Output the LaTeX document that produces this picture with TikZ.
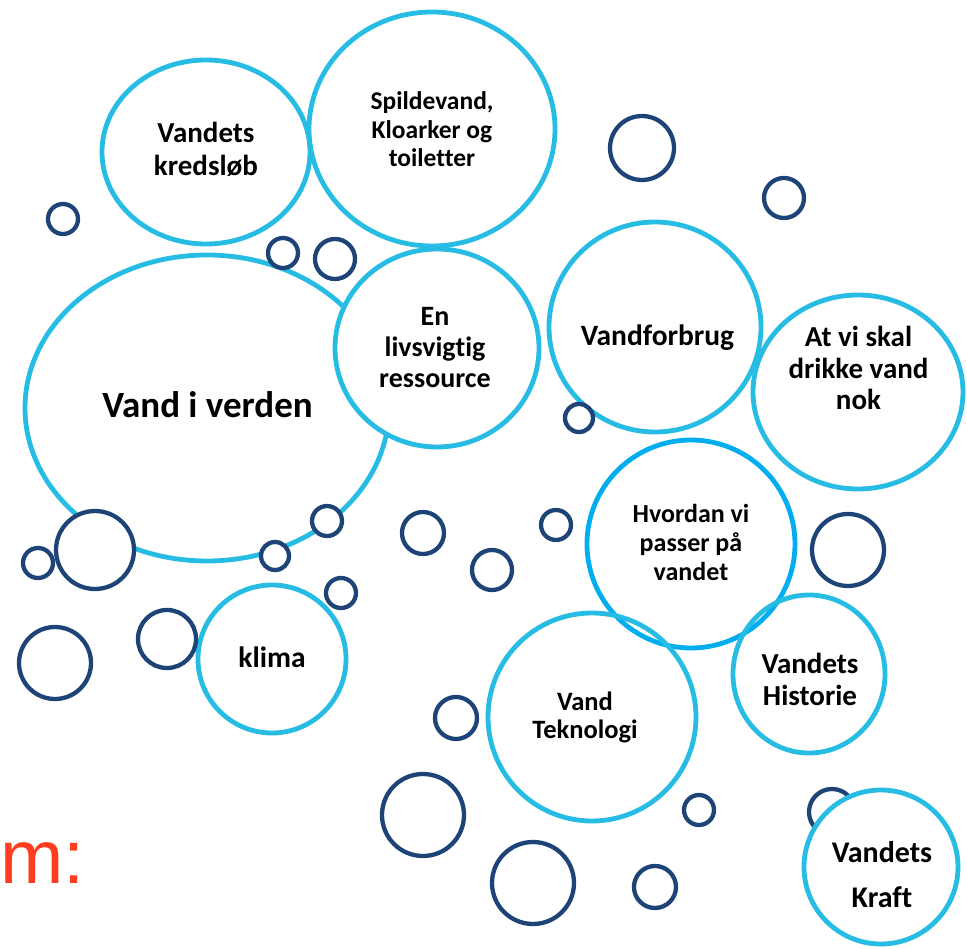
\documentclass[tikz,border=0pt]{standalone}
\usepackage{fontspec}
\setmainfont{Carlito}[Ligatures=NoCommon]
\newfontfamily\arialfont{Liberation Sans}
\definecolor{lightb}{RGB}{38,188,227}
\definecolor{skyb}{RGB}{0,174,239}
\definecolor{darkb}{RGB}{30,68,119}
\definecolor{redtxt}{RGB}{255,60,30}
\tikzset{
  big/.style={draw=lightb, line width=4.8pt},
  bigsky/.style={draw=skyb, line width=4.8pt},
  small/.style={draw=darkb, line width=4.3pt, fill=white},
  lbl/.style={inner sep=0pt, align=center, text=black},
}
\newcommand{\fs}[2]{\fontsize{#1}{#2}\selectfont\bfseries}
\begin{document}
\begin{tikzpicture}[x=1pt,y=-1pt]
\useasboundingbox (0,0) rectangle (967,949);
% large light-blue bubbles
\draw[big] (206,152) ellipse [x radius=104pt, y radius=92pt];
\draw[big] (432,129) ellipse [x radius=123pt, y radius=117pt];
\draw[big] (207,408) ellipse [x radius=182pt, y radius=153pt];
\draw[big, fill=white] (437,348) ellipse [x radius=102pt, y radius=99pt];
\draw[big] (655,327) ellipse [x radius=106pt, y radius=105pt];
\draw[big] (858,392) ellipse [x radius=105pt, y radius=97pt];
\draw[bigsky] (691,544) circle [radius=104pt];
\draw[big] (809,674) ellipse [x radius=76pt, y radius=79pt];
\draw[big] (592,717) circle [radius=104pt];
\draw[big] (272,659) circle [radius=74pt];
% small dark-blue bubbles
\draw[small] (63,219) circle [radius=15pt];
\draw[small] (283,253) circle [radius=15pt];
\draw[small] (335,259) circle [radius=20pt];
\draw[small] (642,148) circle [radius=32pt];
\draw[small] (784,198) circle [radius=20pt];
\draw[small] (579,418) circle [radius=14pt];
\draw[small] (95,550) circle [radius=39pt];
\draw[small] (38,563) circle [radius=15pt];
\draw[small] (327,521) circle [radius=15pt];
\draw[small] (275,556) circle [radius=14pt];
\draw[small] (341,593) circle [radius=15pt];
\draw[small] (423,533) circle [radius=21pt];
\draw[small] (492,570) circle [radius=20pt];
\draw[small] (556,525) circle [radius=15pt];
\draw[small] (848,550) circle [radius=36pt];
\draw[small] (167,639) circle [radius=29pt];
\draw[small] (55,663) circle [radius=36pt];
\draw[small] (456,718) circle [radius=21pt];
\draw[small] (423,815) circle [radius=41pt];
\draw[small] (699,810) circle [radius=15pt];
\draw[small] (832,812) circle [radius=23pt];
\draw[small] (533,883) circle [radius=41pt];
\draw[small] (655,887) circle [radius=21pt];
% front bubble
\draw[big, fill=white] (881,867) circle [radius=77pt];
% labels
\node[lbl, font=\fs{29}{33}] (kred) at (206,149) {Vandets\\kredsløb};
\node[lbl, font=\fs{25.5}{28.5}] (spild) at (432,129.6) {Spildevand,\\Kloarker og\\toiletter};
\node[lbl, font=\fs{37}{42}, anchor=base] (verden) at (207.5,418) {Vand i verden};
\node[lbl, font=\fs{28}{31}] (livs) at (435,348) {En\\livsvigtig\\ressource};
\node[lbl, font=\fs{29.5}{34}, anchor=base] (forbrug) at (657.5,346) {Vandforbrug};
\node[lbl, font=\fs{29}{31.5}] (drikke) at (858.5,368.4) {At vi skal\\drikke vand\\nok};
\node[lbl, font=\fs{26}{29}] (passer) at (691,542) {Hvordan vi\\passer på\\vandet};
\node[lbl, font=\fs{29}{32}] (hist) at (810,679) {Vandets\\Historie};
\node[lbl, font=\fs{26.5}{28}] (tekno) at (585,717.4) {Vand\\Teknologi};
\node[lbl, font=\fs{29.5}{34}, anchor=base] (klima) at (272,667) {klima};
\node[lbl, font=\fs{30}{45}] (kraft) at (882,875) {Vandets\\Kraft};
\node[inner sep=0pt, anchor=base west, text=redtxt, font=\arialfont\fontsize{76}{80}\selectfont] (mtxt) at (0,883) {m:};
\end{tikzpicture}
\end{document}
